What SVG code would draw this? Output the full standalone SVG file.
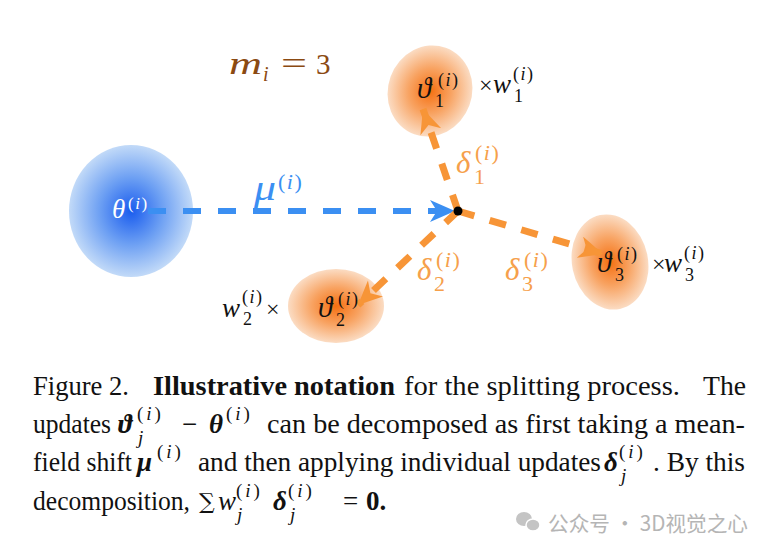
<svg xmlns="http://www.w3.org/2000/svg" width="776" height="556" viewBox="0 0 776 556">
<style>
.serif{font-family:"Liberation Serif","Times New Roman",serif;font-style:normal}
.it{font-family:"Liberation Serif","DejaVu Serif",serif;font-style:italic}
.bi{font-family:"Liberation Serif","DejaVu Serif",serif;font-style:italic;font-weight:bold}
.cap{font-family:"Liberation Serif","Times New Roman",serif;font-size:27px;fill:#111}
.sup{font-size:19px}
.ls{letter-spacing:3px}
.ld{letter-spacing:1.5px}
.blk{fill:#111}
.blue{fill:#3b8ff2}
.orl{fill:#f6a04b}
.dashb{fill:none;stroke:#3b8ff2;stroke-width:6;stroke-dasharray:18 17}
.dasho{fill:none;stroke:#f79537;stroke-width:7;stroke-dasharray:17 16}
</style>
<defs>
<radialGradient id="gb" cx="0.5" cy="0.5" r="0.5">
<stop offset="0" stop-color="#1a5cee"/>
<stop offset="0.5" stop-color="#6c9ff3"/>
<stop offset="1" stop-color="#c2daf8"/>
</radialGradient>
<radialGradient id="go" cx="0.5" cy="0.5" r="0.5">
<stop offset="0" stop-color="#f56f10"/>
<stop offset="0.5" stop-color="#f8a362"/>
<stop offset="1" stop-color="#fbdcc3"/>
</radialGradient>
<marker id="ab" markerUnits="userSpaceOnUse" markerWidth="28" markerHeight="24" refX="25" refY="11" orient="auto">
<path d="M25,11 L0,0 L7,11 L0,22 Z" fill="#3b8ff2"/>
</marker>
<marker id="ao" markerUnits="userSpaceOnUse" markerWidth="28" markerHeight="24" refX="24" refY="11" orient="auto">
<path d="M24,11 L0,0 L7,11 L0,22 Z" fill="#f79537"/>
</marker>
</defs>
<rect width="776" height="556" fill="#ffffff"/>

<g id="theta">
<ellipse cx="131" cy="211" rx="62" ry="66" fill="url(#gb)"/>
</g>
<g id="vartheta1">
<ellipse cx="430" cy="91" rx="42" ry="46" transform="rotate(20 430 91)" fill="url(#go)"/>
</g>
<g id="vartheta2">
<ellipse cx="336" cy="306" rx="48" ry="37" fill="url(#go)"/>
</g>
<g id="vartheta3">
<ellipse cx="610" cy="262" rx="38" ry="48" transform="rotate(-12 610 262)" fill="url(#go)"/>
</g>

<g id="connectors">
<line class="dashb" x1="148" y1="211" x2="455" y2="211" marker-end="url(#ab)"/>
<line class="dasho" x1="458" y1="211" x2="423" y2="109" marker-end="url(#ao)"/>
<line class="dasho" x1="458" y1="211" x2="358" y2="305" marker-end="url(#ao)"/>
<line class="dasho" x1="458" y1="211" x2="603" y2="254" marker-end="url(#ao)"/>
<circle cx="458" cy="211" r="4.5" fill="#000"/>
</g>

<g id="labels">
<text class="it" x="112" y="218" font-size="27" fill="#fff">θ</text>
<text class="it ld" x="128" y="209" font-size="17" fill="#fff"><tspan class="serif">(</tspan>i<tspan class="serif">)</tspan></text>

<text class="it blue" x="254" y="200" font-size="35" textLength="22" lengthAdjust="spacingAndGlyphs">μ</text>
<text class="it blue ld" x="278" y="189" font-size="22"><tspan class="serif">(</tspan>i<tspan class="serif">)</tspan></text>

<g fill="#8b4a12">
<text class="it" x="229" y="74" font-size="32" textLength="33" lengthAdjust="spacingAndGlyphs">m</text>
<text class="it" x="263" y="81" font-size="20">i</text>
<text class="serif" x="281" y="74" font-size="32" textLength="26" lengthAdjust="spacingAndGlyphs">=</text>
<text class="serif" x="316" y="74" font-size="29">3</text>
</g>

<g class="blk">
<text class="it" x="417" y="98" font-size="29">ϑ</text>
<text class="it ld" x="438" y="86" font-size="18"><tspan class="serif">(</tspan>i<tspan class="serif">)</tspan></text>
<text class="serif" x="435" y="107" font-size="18">1</text>
<text class="serif" x="479" y="93" font-size="24">×</text>
<text class="it" x="493" y="93" font-size="27">w</text>
<text class="it ld" x="513" y="80" font-size="18"><tspan class="serif">(</tspan>i<tspan class="serif">)</tspan></text>
<text class="serif" x="514" y="102" font-size="18">1</text>

<text class="it" x="318" y="317" font-size="29">ϑ</text>
<text class="it ld" x="338" y="305" font-size="18"><tspan class="serif">(</tspan>i<tspan class="serif">)</tspan></text>
<text class="serif" x="336" y="326" font-size="18">2</text>
<text class="it" x="222" y="317" font-size="27">w</text>
<text class="it ld" x="242" y="303" font-size="18"><tspan class="serif">(</tspan>i<tspan class="serif">)</tspan></text>
<text class="serif" x="243" y="325" font-size="18">2</text>
<text class="serif" x="266" y="317" font-size="24">×</text>

<text class="it" x="597" y="272" font-size="29">ϑ</text>
<text class="it ld" x="617" y="260" font-size="18"><tspan class="serif">(</tspan>i<tspan class="serif">)</tspan></text>
<text class="serif" x="615" y="281" font-size="18">3</text>
<text class="serif" x="652" y="272" font-size="24">×</text>
<text class="it" x="664" y="272" font-size="27">w</text>
<text class="it ld" x="684" y="259" font-size="18"><tspan class="serif">(</tspan>i<tspan class="serif">)</tspan></text>
<text class="serif" x="685" y="281" font-size="18">3</text>
</g>

<g class="orl">
<text class="it" x="456" y="173" font-size="31">δ</text>
<text class="it ld" x="475" y="160" font-size="22"><tspan class="serif">(</tspan>i<tspan class="serif">)</tspan></text>
<text class="serif" x="474" y="184" font-size="22">1</text>

<text class="it" x="417" y="280" font-size="31">δ</text>
<text class="it ld" x="436" y="267" font-size="22"><tspan class="serif">(</tspan>i<tspan class="serif">)</tspan></text>
<text class="serif" x="434" y="291" font-size="22">2</text>

<text class="it" x="505" y="280" font-size="31">δ</text>
<text class="it ld" x="524" y="267" font-size="22"><tspan class="serif">(</tspan>i<tspan class="serif">)</tspan></text>
<text class="serif" x="522" y="291" font-size="22">3</text>
</g>
</g>

<g id="caption" class="cap">
<text x="33" y="395" textLength="96" lengthAdjust="spacingAndGlyphs">Figure 2.</text>
<text x="153" y="395" font-weight="bold" textLength="242" lengthAdjust="spacingAndGlyphs">Illustrative notation</text>
<text x="404" y="395" textLength="276" lengthAdjust="spacingAndGlyphs">for the splitting process.</text>
<text x="703" y="395" textLength="43" lengthAdjust="spacingAndGlyphs">The</text>

<text x="33" y="433" textLength="78" lengthAdjust="spacingAndGlyphs">updates</text>
<text class="bi" x="118" y="433">ϑ</text>
<text class="it sup ls" x="137" y="420"><tspan class="serif">(</tspan>i<tspan class="serif">)</tspan></text>
<text class="it sup" x="138" y="444">j</text>
<text x="182" y="433">−</text>
<text class="bi" x="209" y="433">θ</text>
<text class="it sup ls" x="226" y="420"><tspan class="serif">(</tspan>i<tspan class="serif">)</tspan></text>
<text x="267" y="433" textLength="478" lengthAdjust="spacingAndGlyphs">can be decomposed as first taking a mean-</text>

<text x="33" y="471" textLength="99" lengthAdjust="spacingAndGlyphs">field shift</text>
<text class="bi" x="137" y="471">μ</text>
<text class="it sup ls" x="157" y="458"><tspan class="serif">(</tspan>i<tspan class="serif">)</tspan></text>
<text x="198" y="471" textLength="403" lengthAdjust="spacingAndGlyphs">and then applying individual updates</text>
<text class="bi" x="604" y="471">δ</text>
<text class="it sup ls" x="619" y="458"><tspan class="serif">(</tspan>i<tspan class="serif">)</tspan></text>
<text class="it sup" x="621" y="482">j</text>
<text x="653" y="471" textLength="92" lengthAdjust="spacingAndGlyphs">. By this</text>

<text x="33" y="510" textLength="157" lengthAdjust="spacingAndGlyphs">decomposition,</text>
<text x="199" y="509" font-family="'DejaVu Serif',serif" font-size="22">∑</text>
<text class="it" x="218" y="510">w</text>
<text class="it sup ls" x="236" y="497"><tspan class="serif">(</tspan>i<tspan class="serif">)</tspan></text>
<text class="it sup" x="237" y="521">j</text>
<text class="bi" x="273" y="510">δ</text>
<text class="it sup ls" x="288" y="497"><tspan class="serif">(</tspan>i<tspan class="serif">)</tspan></text>
<text class="it sup" x="290" y="521">j</text>
<text x="343" y="510">=</text>
<text x="366" y="510" font-weight="bold">0.</text>
</g>

<g id="watermark">
<ellipse cx="524" cy="519" rx="8" ry="7" fill="#c4c4c4"/>
<ellipse cx="533" cy="525" rx="7" ry="6" fill="#c4c4c4" stroke="#fff" stroke-width="1.5"/>
<text x="548" y="531" font-family="'Noto Sans CJK SC','Noto Sans',sans-serif" font-size="21" fill="#b5b5b5" textLength="200" lengthAdjust="spacingAndGlyphs">公众号 · 3D视觉之心</text>
</g>
</svg>
